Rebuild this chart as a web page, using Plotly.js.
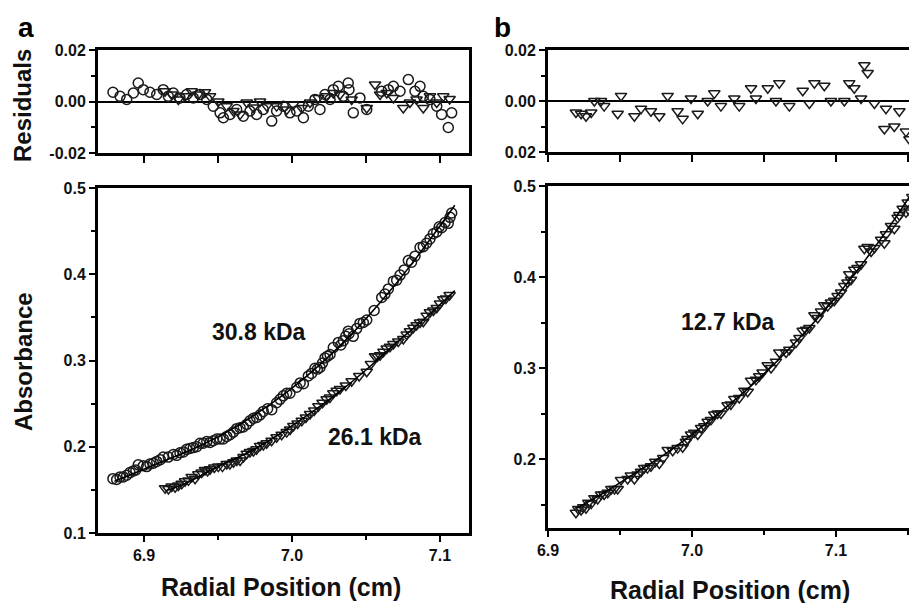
<!DOCTYPE html>
<html>
<head>
<meta charset="utf-8">
<script src="https://cdn.plot.ly/plotly-3.0.1.min.js"></script>
<style>
html,body{margin:0;padding:0;background:#fff;overflow:hidden;}
#chart{width:909px;height:603px;}
</style>
</head>
<body>
<div id="chart"></div>
<script>
// ---------- Panel a : residuals ----------
const resA_circ_x = [6.879,6.8838,6.8883,6.8928,6.8961,6.8995,6.904,6.9086,6.913,6.9164,6.9198,6.9243,6.9288,6.9333,6.9378,6.9424,6.9468,6.9514,6.9536,6.9581,6.9626,6.9671,6.9716,6.9761,6.9806,6.9863,6.9896,6.9941,6.9986,7.0032,7.0077,7.011,7.0155,7.0189,7.0223,7.0257,7.0279,7.0313,7.0347,7.038,7.0385,7.0414,7.0459,7.0505,7.0606,7.0651,7.0685,7.073,7.0786,7.0831,7.0865,7.0887,7.0932,7.0978,7.1011,7.1056,7.1079];
const resA_circ_y = [0.0036,0.002,0.0008,0.0033,0.0072,0.0046,0.0036,0.0027,0.0046,0.002,0.0033,0.0014,0.0027,0.0014,0.0027,0.0008,-0.0018,-0.0044,-0.0063,-0.005,-0.0031,-0.0057,-0.0037,-0.005,-0.0031,-0.0076,-0.0037,-0.0018,-0.0044,-0.0037,-0.0063,-0.0018,0.0008,-0.0031,0.0027,0.0008,0.0046,0.0059,0.002,0.0072,0.0046,-0.0044,0.0014,-0.0031,0.004,0.0046,0.0059,0.004,0.0085,0.004,0.0059,0.002,0.0008,-0.0018,-0.005,-0.0101,-0.0044];
const resA_tri_x = [6.9142,6.9187,6.9232,6.9277,6.9322,6.9367,6.9412,6.9446,6.9502,6.9559,6.9604,6.9649,6.9694,6.9739,6.9784,6.9829,6.9896,6.9964,7.0009,7.0066,7.0122,7.0178,7.0234,7.0279,7.0324,7.0403,7.0505,7.0561,7.0595,7.064,7.0685,7.0752,7.0797,7.0842,7.0887,7.0932,7.0978,7.1022,7.1065];
const resA_tri_y = [0.004,0.0027,0.0008,0.002,0.004,0.0027,0.0036,0.002,0,-0.0018,-0.0037,-0.005,-0.0004,-0.0023,0,-0.0018,-0.0018,-0.0031,-0.0012,-0.0025,-0.0004,0.0014,0.002,0.0033,0.0027,0.0008,-0.0025,0.0066,0.0027,0.0033,0.0014,-0.0025,-0.0004,0.0008,-0.0025,0.002,-0.0004,0.002,0.001];

// ---------- Panel a : absorbance ----------
const absA_circ_y = [0.163,0.165,0.167,0.172,0.179,0.178,0.180,0.183,0.188,0.188,0.191,0.193,0.197,0.199,0.204,0.206,0.207,0.209,0.209,0.214,0.221,0.223,0.230,0.234,0.241,0.243,0.251,0.259,0.262,0.269,0.273,0.282,0.291,0.292,0.303,0.307,0.315,0.321,0.323,0.334,0.331,0.328,0.343,0.347,0.373,0.383,0.392,0.399,0.416,0.421,0.431,0.432,0.441,0.449,0.454,0.459,0.471];
const absA_circ_x_more = [6.8815,6.886,6.8905,6.8945,6.9018,6.9063,6.911,6.9221,6.9266,6.931,6.9356,6.940,6.9446,6.9492,6.9559,6.9604,6.9649,6.9694,6.9739,6.9784,6.9835,6.9919,6.9964,7.0055,7.0132,7.0172,7.0206,7.024,7.033,7.0363,7.0437,7.0482,7.0555,7.0628,7.0707,7.0758,7.0808,7.0909,7.0955,7.0995,7.1034,7.1068];
const absA_circ_y_more = [0.162,0.165,0.170,0.173,0.177,0.181,0.185,0.190,0.194,0.198,0.200,0.204,0.205,0.209,0.212,0.217,0.222,0.226,0.233,0.237,0.244,0.255,0.262,0.274,0.285,0.290,0.297,0.305,0.318,0.328,0.337,0.344,0.358,0.377,0.393,0.405,0.414,0.436,0.447,0.455,0.460,0.466];
const absA_tri_y = [0.152,0.154,0.155,0.160,0.165,0.168,0.173,0.174,0.177,0.180,0.182,0.184,0.192,0.195,0.201,0.204,0.211,0.217,0.224,0.230,0.238,0.247,0.255,0.262,0.267,0.276,0.287,0.305,0.306,0.314,0.319,0.325,0.334,0.341,0.345,0.356,0.361,0.371,0.376];
const absA_tri_x_more = [6.9165,6.921,6.9255,6.93,6.9345,6.939,6.9429,6.9475,6.953,6.958,6.9627,6.9672,6.9716,6.976,6.9806,6.9862,6.993,6.9987,7.0038,7.0094,7.015,7.0206,7.0256,7.0302,7.0364,7.0454,7.0533,7.0578,7.0618,7.0662,7.0718,7.0775,7.082,7.0865,7.091,7.0955,7.1,7.104];
const absA_tri_y_more = [0.151,0.153,0.157,0.161,0.163,0.170,0.172,0.176,0.177,0.180,0.184,0.188,0.194,0.197,0.202,0.207,0.214,0.220,0.227,0.234,0.242,0.251,0.257,0.265,0.271,0.282,0.296,0.305,0.310,0.316,0.322,0.330,0.338,0.344,0.352,0.358,0.366,0.372];
const fitA_circ_x = [6.88,6.90,6.92,6.94,6.96,6.98,7.00,7.02,7.04,7.06,7.08,7.10,7.11];
const fitA_circ_y = [0.160,0.174,0.188,0.203,0.221,0.243,0.268,0.297,0.330,0.368,0.410,0.456,0.480];
const fitA_tri_x = [6.915,6.93,6.95,6.97,6.99,7.01,7.03,7.05,7.07,7.09,7.11];
const fitA_tri_y = [0.149,0.159,0.177,0.193,0.213,0.236,0.261,0.289,0.320,0.349,0.381];

// ---------- Panel b ----------
const resB_x = [6.9194,6.923,6.9264,6.930,6.9322,6.9368,6.939,6.9484,6.9507,6.960,6.9646,6.9715,6.9773,6.9831,6.990,6.9935,6.9993,7.004,7.0109,7.0155,7.0201,7.0294,7.0328,7.041,7.0444,7.0526,7.0583,7.0606,7.0676,7.0769,7.0815,7.085,7.0919,7.0965,7.1058,7.1092,7.1127,7.1174,7.1197,7.122,7.1267,7.1336,7.1347,7.1405,7.144,7.1486,7.151];
const resB_y = [-0.0045,-0.005,-0.006,-0.0045,0,0,-0.002,-0.005,0.002,-0.006,-0.003,-0.004,-0.006,0.002,-0.004,-0.007,0.001,-0.005,0,0.003,-0.002,0.001,-0.002,0.005,0.001,0.005,0,0.007,-0.002,0.004,-0.001,0.007,0.006,0,0,0.007,0.005,0.001,0.014,0.011,-0.001,-0.011,-0.003,-0.010,-0.004,-0.012,-0.015];
const absB_y = [0.141,0.144,0.146,0.151,0.157,0.161,0.161,0.167,0.177,0.178,0.186,0.192,0.195,0.210,0.212,0.213,0.227,0.227,0.241,0.249,0.250,0.266,0.267,0.286,0.287,0.303,0.307,0.317,0.320,0.341,0.344,0.358,0.369,0.372,0.390,0.403,0.408,0.414,0.431,0.433,0.432,0.437,0.447,0.453,0.468,0.471,0.473];
const absB_x_more = [6.921,6.9245,6.928,6.9345,6.9415,6.944,6.9462,6.9553,6.9575,6.9622,6.9668,6.969,6.9745,6.980,6.9866,6.9958,6.9968,7.0016,7.0063,7.0086,7.0132,7.0178,7.0247,7.027,7.0364,7.0387,7.0467,7.049,7.0549,7.0653,7.0722,7.0746,7.0792,7.0873,7.0896,7.0942,7.0988,7.1011,7.1035,7.108,7.1104,7.115,7.1244,7.1313,7.1382,7.1428,7.1463,7.1498,7.153];
const absB_y_more = [0.145,0.147,0.152,0.156,0.163,0.167,0.167,0.178,0.182,0.183,0.190,0.190,0.197,0.201,0.209,0.219,0.222,0.229,0.234,0.236,0.243,0.250,0.259,0.260,0.275,0.274,0.291,0.295,0.300,0.317,0.328,0.333,0.342,0.355,0.362,0.368,0.374,0.379,0.383,0.394,0.397,0.410,0.428,0.441,0.456,0.465,0.475,0.482,0.488];
const fitB_x = [6.92,6.94,6.96,6.98,7.00,7.02,7.04,7.06,7.08,7.10,7.12,7.14,7.16];
const fitB_y = [0.146,0.164,0.184,0.204,0.227,0.252,0.279,0.309,0.342,0.378,0.418,0.462,0.510];

// ---------- Text ----------
const labelsA = ['30.8 kDa','26.1 kDa'];
const labelB = '12.7 kDa';
const resA_ticks = [-0.02, 0, 0.02];
const resA_ticktext = ['-0.02','0.00','0.02'];
const resB_ticktext = ['0.02','0.00','0.02'];

const W = 909, H = 603;
const px = v => v / W;
const py = v => 1 - v / H;
const FONT = 'Liberation Sans, Arial, Helvetica, sans-serif';

const circ = {symbol:'circle-open', size:10, color:'#1a1a1a', line:{width:1.5, color:'#1a1a1a'}};
const tri  = {symbol:'triangle-down-open', size:10, color:'#1a1a1a', line:{width:1.5, color:'#1a1a1a'}};
const fitLine = {color:'#000', width:1.6, shape:'spline'};

const traces = [
  {x:resA_circ_x, y:resA_circ_y, xaxis:'x', yaxis:'y', mode:'markers', marker:circ, hoverinfo:'skip'},
  {x:resA_tri_x, y:resA_tri_y, xaxis:'x', yaxis:'y', mode:'markers', marker:tri, hoverinfo:'skip'},
  {x:resA_circ_x.concat(absA_circ_x_more), y:absA_circ_y.concat(absA_circ_y_more), xaxis:'x2', yaxis:'y2', mode:'markers', marker:circ, hoverinfo:'skip'},
  {x:resA_tri_x.concat(absA_tri_x_more), y:absA_tri_y.concat(absA_tri_y_more), xaxis:'x2', yaxis:'y2', mode:'markers', marker:tri, hoverinfo:'skip'},
  {x:fitA_circ_x, y:fitA_circ_y, xaxis:'x2', yaxis:'y2', mode:'lines', line:fitLine, hoverinfo:'skip'},
  {x:fitA_tri_x, y:fitA_tri_y, xaxis:'x2', yaxis:'y2', mode:'lines', line:fitLine, hoverinfo:'skip'},
  {x:resB_x, y:resB_y, xaxis:'x3', yaxis:'y3', mode:'markers', marker:tri, hoverinfo:'skip'},
  {x:resB_x.concat(absB_x_more), y:absB_y.concat(absB_y_more), xaxis:'x4', yaxis:'y4', mode:'markers', marker:tri, hoverinfo:'skip'},
  {x:fitB_x, y:fitB_y, xaxis:'x4', yaxis:'y4', mode:'lines', line:fitLine, hoverinfo:'skip'}
];

const tickFont = {family:FONT, size:16, color:'#111', weight:'bold'};
const base = {showline:true, linewidth:3, linecolor:'#000', showgrid:false, zeroline:false,
  ticks:'outside', ticklen:6, tickwidth:2, tickcolor:'#000', tickfont:tickFont, fixedrange:true};
const minorY = {ticks:'outside', ticklen:4, tickwidth:2, tickcolor:'#000'};

const xA = [px(98), px(469)];
const xB = [px(548), 1];
const rangeA = [6.8689, 7.1196];
const rangeB = [6.9, 7.1507];

const layout = {
  width:W, height:H, margin:{l:0,r:0,t:0,b:0}, showlegend:false,
  paper_bgcolor:'#fff', plot_bgcolor:'#fff',
  font:{family:FONT, color:'#111'},
  xaxis: Object.assign({}, base, {domain:xA, anchor:'y', range:rangeA, mirror:true,
    showticklabels:false, tick0:6.9, dtick:0.05, ticklen:7}),
  yaxis: Object.assign({}, base, {domain:[py(153), py(50)], anchor:'x', range:[-0.02,0.02], mirror:true,
    tickmode:'array', tickvals:resA_ticks, ticktext:resA_ticktext,
    zeroline:true, zerolinecolor:'#000', zerolinewidth:2,
    minor:Object.assign({tickmode:'array', tickvals:[-0.01,0.01]}, minorY)}),
  xaxis2: Object.assign({}, base, {domain:xA, anchor:'y2', range:rangeA, mirror:true,
    tick0:6.9, dtick:0.1, tickformat:'.1f',
    minor:Object.assign({tick0:6.9, dtick:0.05}, minorY)}),
  yaxis2: Object.assign({}, base, {domain:[py(533), py(188)], anchor:'x2', range:[0.1,0.5], mirror:true,
    tick0:0.1, dtick:0.1, tickformat:'.1f',
    minor:Object.assign({tick0:0.1, dtick:0.05}, minorY)}),
  xaxis3: Object.assign({}, base, {domain:xB, anchor:'y3', range:rangeB, mirror:true,
    showticklabels:false, tick0:6.9, dtick:0.05, ticklen:7}),
  yaxis3: Object.assign({}, base, {domain:[py(152), py(50)], anchor:'x3', range:[-0.02,0.02], mirror:false,
    tickmode:'array', tickvals:resA_ticks, ticktext:resB_ticktext,
    zeroline:true, zerolinecolor:'#000', zerolinewidth:2,
    minor:Object.assign({tickmode:'array', tickvals:[-0.01,0.01]}, minorY)}),
  xaxis4: Object.assign({}, base, {domain:xB, anchor:'y4', range:rangeB, mirror:true,
    tick0:6.9, dtick:0.1, tickformat:'.1f',
    minor:Object.assign({tick0:6.9, dtick:0.05}, minorY)}),
  yaxis4: Object.assign({}, base, {domain:[py(528), py(186)], anchor:'x4', range:[0.1242,0.5], mirror:false,
    tick0:0.1, dtick:0.1, tickformat:'.1f',
    minor:Object.assign({tick0:0.1, dtick:0.05}, minorY)}),
  annotations: [
    {xref:'paper', yref:'paper', x:px(26), y:py(27), text:'a', showarrow:false, xanchor:'center', yanchor:'middle',
      font:{family:FONT, size:28, color:'#000', weight:'bold'}},
    {xref:'paper', yref:'paper', x:px(503), y:py(27), text:'b', showarrow:false, xanchor:'center', yanchor:'middle',
      font:{family:FONT, size:28, color:'#000', weight:'bold'}},
    {xref:'paper', yref:'paper', x:px(23), y:py(106), text:'Residuals', textangle:-90, showarrow:false,
      xanchor:'center', yanchor:'middle', font:{family:FONT, size:24, color:'#111', weight:'bold'}},
    {xref:'paper', yref:'paper', x:px(23), y:py(362), text:'Absorbance', textangle:-90, showarrow:false,
      xanchor:'center', yanchor:'middle', font:{family:FONT, size:24, color:'#111', weight:'bold'}},
    {xref:'paper', yref:'paper', x:px(281), y:py(587), text:'Radial Position (cm)', showarrow:false,
      xanchor:'center', yanchor:'middle', font:{family:FONT, size:25, color:'#111', weight:'bold'}},
    {xref:'paper', yref:'paper', x:px(730), y:py(590), text:'Radial Position (cm)', showarrow:false,
      xanchor:'center', yanchor:'middle', font:{family:FONT, size:25, color:'#111', weight:'bold'}},
    {xref:'x2', yref:'y2', x:6.978, y:0.333, text:labelsA[0], showarrow:false, xanchor:'center', yanchor:'middle',
      font:{family:FONT, size:23, color:'#111', weight:'bold'}},
    {xref:'x2', yref:'y2', x:7.056, y:0.2116, text:labelsA[1], showarrow:false, xanchor:'center', yanchor:'middle',
      font:{family:FONT, size:23, color:'#111', weight:'bold'}},
    {xref:'x4', yref:'y4', x:7.025, y:0.3505, text:labelB, showarrow:false, xanchor:'center', yanchor:'middle',
      font:{family:FONT, size:23, color:'#111', weight:'bold'}}
  ]
};

Plotly.newPlot('chart', traces, layout, {staticPlot:true, displayModeBar:false});
</script>
</body>
</html>
